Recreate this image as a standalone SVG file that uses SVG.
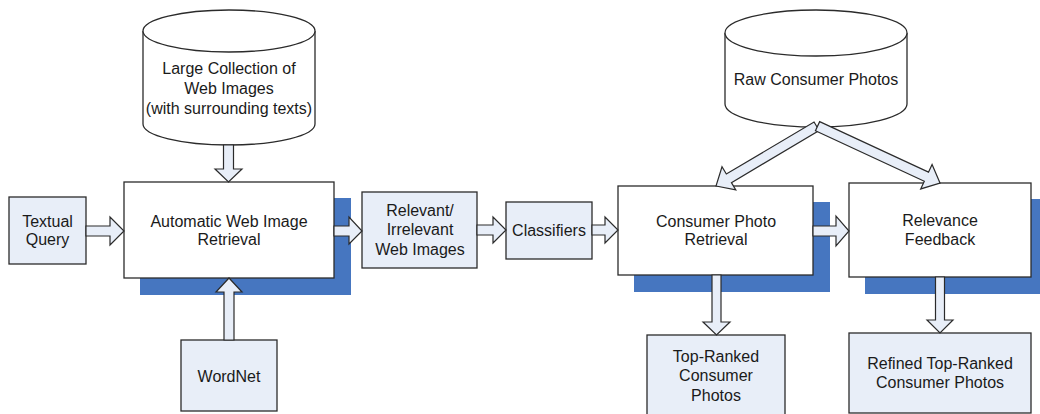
<svg xmlns="http://www.w3.org/2000/svg" width="1040" height="414" viewBox="0 0 1040 414">
<style>
.box{fill:#E8EEF8;stroke:#2b2b2b;stroke-width:1.3}
.wbox{fill:#ffffff;stroke:#2b2b2b;stroke-width:1.3}
.shadow{fill:#4676C0}
.cyl{fill:#ffffff;stroke:#2b2b2b;stroke-width:1.3}
.arr{fill:#E8EEF8;stroke:#2b2b2b;stroke-width:1.2;stroke-linejoin:miter}
text{font-family:"Liberation Sans",Arial,sans-serif;font-size:16px;fill:#1a1a1a;text-anchor:middle}
</style>
<defs>
<path id="darrow" d="M0,-5 H-15 V-13.5 L0,0 L-15,13.5 V5 Z"/>
</defs>
<rect width="1040" height="414" fill="#ffffff"/>

<g id="shadows">
<rect class="shadow" x="140" y="198" width="211" height="97"/>
<rect class="shadow" x="634" y="202" width="196" height="90"/>
<rect class="shadow" x="865" y="199" width="180" height="95"/>
</g>

<g id="web-images">
<path class="cyl" d="M143,31 A86,21 0 0,1 315,31 V124 A86,21 0 0,1 143,124 Z"/>
<path class="cyl" fill="none" d="M143,31 A86,21 0 0,0 315,31"/>
<text x="229" y="74">Large Collection of</text>
<text x="229" y="94">Web Images</text>
<text x="229" y="114">(with surrounding texts)</text>
</g>

<g id="textual-query">
<rect class="box" x="9" y="197" width="77" height="67"/>
<text x="47.5" y="227">Textual</text>
<text x="47.5" y="245">Query</text>
</g>

<g id="auto-retrieval">
<rect class="wbox" x="124" y="182" width="210" height="96"/>
<text x="229" y="227">Automatic Web Image</text>
<text x="229" y="245">Retrieval</text>
</g>

<g id="wordnet">
<rect class="box" x="181" y="340" width="96" height="71"/>
<text x="229" y="382">WordNet</text>
</g>

<g id="relevant-images">
<rect class="box" x="362" y="192" width="115" height="76"/>
<text x="420" y="216">Relevant/</text>
<text x="420" y="235">Irrelevant</text>
<text x="420" y="255">Web Images</text>
</g>

<g id="classifiers">
<rect class="box" x="506" y="202" width="86" height="57"/>
<text x="549" y="236">Classifiers</text>
</g>

<g id="raw-photos">
<path class="cyl" d="M725,33 A91,23 0 0,1 907,33 V104 A91,23 0 0,1 725,104 Z"/>
<path class="cyl" fill="none" d="M725,33 A91,23 0 0,0 907,33"/>
<text x="816" y="85">Raw Consumer Photos</text>
</g>

<g id="consumer-retrieval">
<rect class="wbox" x="618" y="186" width="195" height="89"/>
<text x="716" y="227">Consumer Photo</text>
<text x="716" y="245">Retrieval</text>
</g>

<g id="relevance-feedback">
<rect class="wbox" x="849" y="183" width="182" height="94"/>
<text x="940" y="226">Relevance</text>
<text x="940" y="245">Feedback</text>
</g>

<g id="top-ranked">
<rect class="box" x="647" y="335" width="138" height="85"/>
<text x="716" y="362">Top-Ranked</text>
<text x="716" y="381">Consumer</text>
<text x="716" y="401">Photos</text>
</g>

<g id="refined">
<rect class="box" x="849" y="333" width="182" height="80"/>
<text x="940" y="369">Refined Top-Ranked</text>
<text x="940" y="388">Consumer Photos</text>
</g>

<g id="connectors">
<!-- cylinder to automatic -->
<polygon class="arr" points="223.5,145 233.5,145 233.5,169 242,169 228.5,182 215,169 223.5,169"/>
<!-- wordnet up to automatic -->
<polygon class="arr" points="224,340 234,340 234,292 242,292 229,278 216,292 224,292"/>
<!-- textual query to automatic -->
<polygon class="arr" points="86,226 110,226 110,217 124,231 110,245 110,236 86,236"/>
<!-- automatic to relevant -->
<polygon class="arr" points="334,226 349,226 349,217 362,231 349,244 349,236 334,236"/>
<!-- relevant to classifiers -->
<polygon class="arr" points="477,225 493,225 493,217 506,230 493,243 493,235 477,235"/>
<!-- classifiers to consumer retrieval -->
<polygon class="arr" points="592,225 605,225 605,217 618,230 605,243 605,235 592,235"/>
<!-- consumer retrieval to relevance feedback -->
<polygon class="arr" points="813,226 836,226 836,216 849,231 836,246 836,236 813,236"/>
<!-- consumer retrieval down to top-ranked -->
<polygon class="arr" points="712,275 721,275 721,322 730,322 716.5,335 703,322 712,322"/>
<!-- relevance feedback down to refined -->
<polygon class="arr" points="935.5,277 944.5,277 944.5,320 953,320 940,333 927,320 935.5,320"/>
<!-- raw photos diagonal to consumer retrieval -->
<g transform="translate(716,186) rotate(149.3)">
<path class="arr" d="M0,0 L-15,-13.5 V-5 H-117 V5 H-15 V13.5 Z"/>
</g>
<!-- raw photos diagonal to relevance feedback -->
<g transform="translate(940,183) rotate(24.9)">
<path class="arr" d="M0,0 L-15,-13.5 V-5 H-135 V5 H-15 V13.5 Z"/>
</g>
</g>
</svg>
